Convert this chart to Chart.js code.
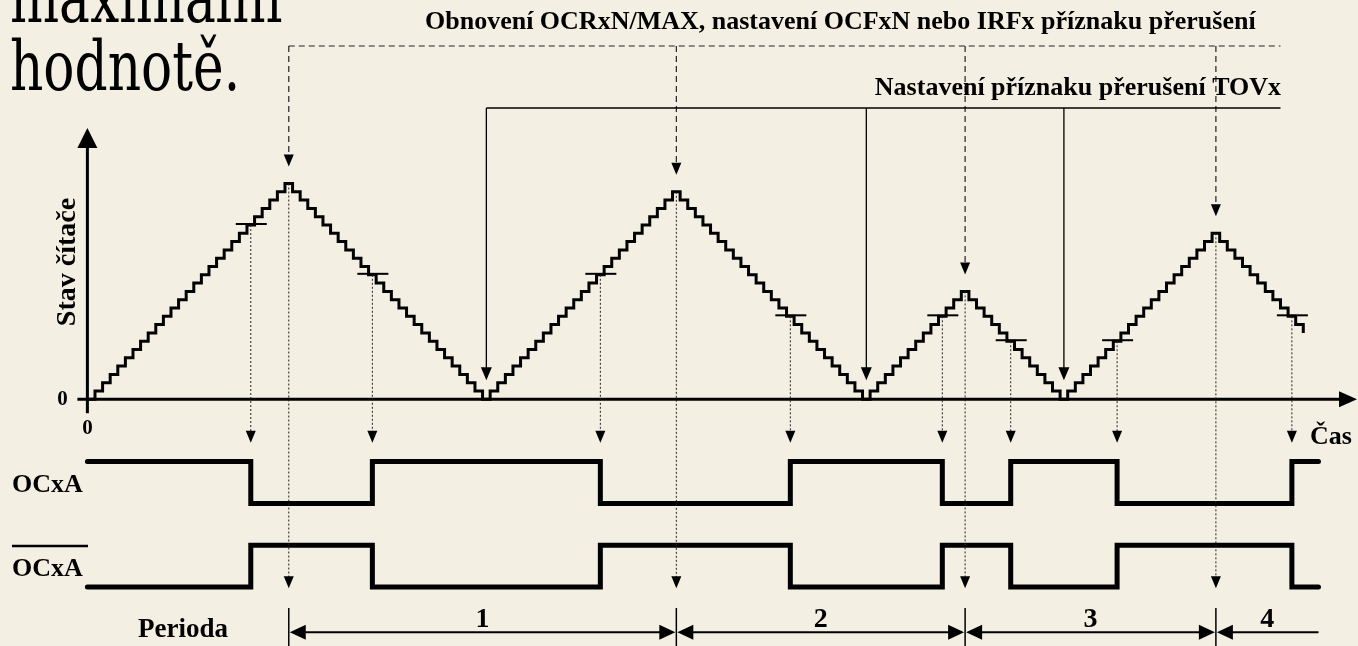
<!DOCTYPE html>
<html lang="cs">
<head>
<meta charset="utf-8">
<title>Stav čítače – fázově a frekvenčně korektní PWM</title>
<script src="https://cdn.jsdelivr.net/npm/chart.js@4.4.1/dist/chart.umd.min.js"></script>
<style>
  html, body { margin: 0; padding: 0; background: #f4efe3; }
  #wrap { position: relative; width: 1358px; height: 646px; }
</style>
</head>
<body>
<div id="wrap"><canvas id="pwm"></canvas></div>
<script>
// stav čítače pro každý takt (index = číslo taktu)
const counterValues = [
  0, 1, 2, 3, 4, 5, 6, 7, 8, 9, 10, 11, 12, 13, 14, 15, 16, 17, 18, 19, 20, 21, 22, 23, 24, 25, 26,
  25, 24, 23, 22, 21, 20, 19, 18, 17, 16, 15, 14, 13, 12, 11, 10, 9, 8, 7, 6, 5, 4, 3, 2, 1, 0,
  1, 2, 3, 4, 5, 6, 7, 8, 9, 10, 11, 12, 13, 14, 15, 16, 17, 18, 19, 20, 21, 22, 23, 24, 25,
  24, 23, 22, 21, 20, 19, 18, 17, 16, 15, 14, 13, 12, 11, 10, 9, 8, 7, 6, 5, 4, 3, 2, 1, 0,
  1, 2, 3, 4, 5, 6, 7, 8, 9, 10, 11, 12, 13,
  12, 11, 10, 9, 8, 7, 6, 5, 4, 3, 2, 1, 0,
  1, 2, 3, 4, 5, 6, 7, 8, 9, 10, 11, 12, 13, 14, 15, 16, 17, 18, 19, 20,
  19, 18, 17, 16, 15, 14, 13, 12, 11, 10, 9, 8
];

// shody s OCRxA (takt, hodnota)
const compareTicks = [21, 37, 67, 92, 112, 121, 135, 158];
const compareValues = [21, 15, 15, 10, 10, 7, 7, 10];

// vrcholy (TOP) a minima (BOTTOM)
const peakTicks = [26, 77, 115, 148];
const peakValues = [26, 25, 13, 20];
const valleyTicks = [52, 102, 128];

// výstup OCxA: hrany a úrovně
const ocxaEdges = [0, 21.5, 37.5, 67.5, 92.5, 112.5, 121.5, 135.5, 158.5, 162];
const ocxaLevels = [1, 0, 1, 0, 1, 0, 1, 0, 1, 1];

const periodLabels = ['1', '2', '3', '4'];
const periodEnd = 162;
const noteEnd = 157;

const topNote = 'Obnovení OCRxN/MAX, nastavení OCFxN nebo IRFx příznaku přerušení';
const tovNote = 'Nastavení příznaku přerušení TOVx';
const yTitle = 'Stav čítače';
const xTitle = 'Čas';
const signalName = 'OCxA';
const periodTitle = 'Perioda';
const slideLines = ['maximální', 'hodnotě.'];

const BOLD = '"Liberation Serif", "Times New Roman", serif';
const INK = '#000';

function tri(ctx, x, y, dir, len, half) {
  // (x, y) is the tip
  ctx.beginPath();
  ctx.moveTo(x, y);
  if (dir === 'down') { ctx.lineTo(x - half, y - len); ctx.lineTo(x + half, y - len); }
  if (dir === 'up') { ctx.lineTo(x - half, y + len); ctx.lineTo(x + half, y + len); }
  if (dir === 'left') { ctx.lineTo(x + len, y - half); ctx.lineTo(x + len, y + half); }
  if (dir === 'right') { ctx.lineTo(x - len, y - half); ctx.lineTo(x - len, y + half); }
  ctx.closePath();
  ctx.fill();
}

function seg(ctx, x1, y1, x2, y2, width, dash, color) {
  ctx.save();
  ctx.strokeStyle = color || INK;
  ctx.lineWidth = width;
  ctx.setLineDash(dash || []);
  ctx.beginPath();
  ctx.moveTo(x1, y1);
  ctx.lineTo(x2, y2);
  ctx.stroke();
  ctx.restore();
}

const pwmPlugin = {
  id: 'pwmAnnotations',
  beforeDraw(chart) {
    const { ctx, width, height } = chart;
    ctx.save();
    ctx.fillStyle = '#f4efe3';
    ctx.fillRect(0, 0, width, height);
    ctx.restore();
  },
  beforeDatasetsDraw(chart) {
    const { ctx } = chart;
    const X = v => chart.scales.x.getPixelForValue(v);
    const Y = v => chart.scales.y.getPixelForValue(v);
    const x0 = X(0), y0 = Y(0);
    ctx.save();
    ctx.fillStyle = INK;
    // osa x
    seg(ctx, x0 - 10, y0, chart.width - 14, y0, 3);
    tri(ctx, chart.width - 1, y0, 'right', 18, 8);
    // osa y
    seg(ctx, x0, y0 + 14, x0, 145, 3);
    tri(ctx, x0, 128, 'up', 20, 10);
    ctx.restore();
  },
  afterDatasetsDraw(chart) {
    const { ctx } = chart;
    const X = v => chart.scales.x.getPixelForValue(v);
    const Y = v => chart.scales.y.getPixelForValue(v);
    const L = v => chart.scales.yl.getPixelForValue(v);
    ctx.save();
    ctx.fillStyle = INK;

    const dotted = [2, 2];
    const dashed = [6, 4];

    // shody s komparátorem
    const cmpTip = L(3.45);
    compareTicks.forEach((t, i) => {
      const px = X(t + 0.5), py = Y(compareValues[i]);
      seg(ctx, px - 15, py - 1, px + 16, py - 1, 2);
      seg(ctx, px, py, px, cmpTip - 11, 1, dotted, '#222');
      tri(ctx, px, cmpTip, 'down', 12, 5);
    });

    // vrcholy: obnovení OCR / příznaky
    const topY = 46;
    seg(ctx, X(peakTicks[0] + 0.5), topY, X(noteEnd), topY, 1.2, dashed, '#222');
    const botTip = L(-0.03);
    const perY = L(-1.08);
    peakTicks.forEach((t, i) => {
      const px = X(t + 0.5), top = Y(peakValues[i]) - 2;
      seg(ctx, px, topY, px, top - 26, 1.2, dashed, '#222');
      tri(ctx, px, top - 15, 'down', 12, 5);
      seg(ctx, px, top + 2, px, botTip - 11, 1, dotted, '#222');
      tri(ctx, px, botTip, 'down', 12, 5);
      seg(ctx, px, L(-0.5), px, chart.height, 1.5);
    });

    // přetečení TOVx v minimech
    const tovY = 108;
    seg(ctx, X(valleyTicks[0] + 0.5), tovY, X(noteEnd), tovY, 1.5);
    valleyTicks.forEach(t => {
      const px = X(t + 0.5);
      seg(ctx, px, tovY, px, Y(0) - 30, 1.3);
      tri(ctx, px, Y(0) - 19, 'down', 13, 5.5);
    });

    // periody
    ctx.font = 'bold 28px ' + BOLD;
    ctx.textAlign = 'center';
    ctx.textBaseline = 'alphabetic';
    periodLabels.forEach((lab, i) => {
      const a = X(peakTicks[i] + 0.5);
      const last = i === peakTicks.length - 1;
      const b = last ? X(periodEnd) : X(peakTicks[i + 1] + 0.5);
      seg(ctx, a + 8, perY, last ? b : b - 8, perY, 2);
      tri(ctx, a + 1, perY, 'left', 16, 7.5);
      if (!last) tri(ctx, b - 1, perY, 'right', 16, 7.5);
      ctx.fillText(lab, (a + b) / 2, perY - 5);
    });

    // popisky
    ctx.font = 'bold 27px ' + BOLD;
    ctx.textAlign = 'left';
    ctx.fillText(periodTitle, 138, 637);

    ctx.font = 'bold 26px ' + BOLD;
    ctx.fillText(signalName, 12, 492);
    ctx.fillText(signalName, 12, 576);
    seg(ctx, 12, 546, 88, 546, 2.5);

    ctx.textBaseline = 'middle';
    ctx.fillText(xTitle, 1310, 437);

    ctx.font = 'bold 21px ' + BOLD;
    ctx.textAlign = 'center';
    ctx.fillText('0', X(0) - 25, Y(0));
    ctx.fillText('0', X(0), Y(0) + 29);

    ctx.save();
    ctx.translate(68, 262);
    ctx.rotate(-Math.PI / 2);
    ctx.font = 'bold 28px ' + BOLD;
    ctx.fillText(yTitle, 0, 0);
    ctx.restore();

    ctx.font = 'bold 26px ' + BOLD;
    ctx.textAlign = 'left';
    ctx.fillText(topNote, 425, 22, 858);
    ctx.textAlign = 'right';
    ctx.fillText(tovNote, 1281, 88, 436);

    // text ze snímku
    ctx.save();
    ctx.translate(10, 0);
    ctx.scale(0.74, 1);
    ctx.font = '70px "DejaVu Serif", serif';
    ctx.textAlign = 'left';
    ctx.textBaseline = 'alphabetic';
    ctx.fillText(slideLines[0], 0, 22);
    ctx.fillText(slideLines[1], 0, 90);
    ctx.restore();

    ctx.restore();
  }
};

const counterData = counterValues.map((v, i) => ({ x: i, y: v }));
const ocxaData = ocxaEdges.map((t, i) => ({ x: t, y: 2 + ocxaLevels[i] }));
const ocxaNegData = ocxaEdges.map((t, i) => ({ x: t, y: 1 - ocxaLevels[i] }));

const stepLine = {
  stepped: 'before',
  borderColor: INK,
  borderJoinStyle: 'miter',
  pointRadius: 0,
  fill: false
};

new Chart(document.getElementById('pwm'), {
  type: 'line',
  data: {
    datasets: [
      { ...stepLine, label: yTitle, data: counterData, yAxisID: 'y', borderWidth: 3 },
      { ...stepLine, label: signalName, data: ocxaData, yAxisID: 'yl', borderWidth: 5, borderCapStyle: 'round' },
      { ...stepLine, label: '¬' + signalName, data: ocxaNegData, yAxisID: 'yl', borderWidth: 5, borderCapStyle: 'round' }
    ]
  },
  options: {
    responsive: true,
    maintainAspectRatio: false,
    animation: false,
    events: [],
    layout: { padding: 0 },
    clip: false,
    scales: {
      x: { type: 'linear', min: -11.5, max: 167.2, display: false },
      y: { type: 'linear', min: -29.72, max: 48.11, display: false },
      yl: { type: 'linear', min: -1.41, max: 14.04, display: false }
    },
    plugins: {
      legend: { display: false },
      tooltip: { enabled: false }
    }
  },
  plugins: [pwmPlugin]
});
</script>
</body>
</html>
